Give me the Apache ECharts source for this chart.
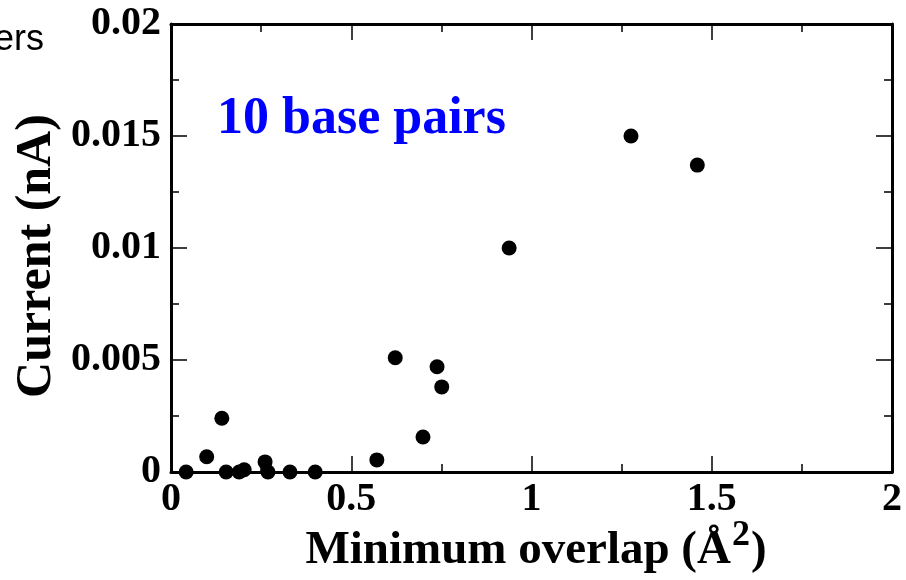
<!DOCTYPE html>
<html>
<head>
<meta charset="utf-8">
<script src="https://cdn.jsdelivr.net/npm/echarts@6/dist/echarts.min.js"></script>
<style>
html,body{margin:0;padding:0;background:#fff;}
#chart{width:906px;height:580px;}
</style>
</head>
<body>
<div id="chart"></div>
<script>
// Data
var overlap = [0.042, 0.099, 0.141, 0.153, 0.189, 0.203, 0.261, 0.269, 0.330, 0.400, 0.571, 0.622, 0.699, 0.738, 0.751, 0.938, 1.276, 1.460];
var current = [0.0000, 0.00068, 0.0024, 0.0000, 0.0000, 0.0001, 0.00045, 0.0000, 0.0000, 0.0000, 0.00054, 0.0051, 0.00156, 0.0047, 0.0038, 0.0100, 0.0150, 0.0137];
var xTicks = [0, 0.5, 1, 1.5, 2];
var yTicks = [0, 0.005, 0.01, 0.015, 0.02];
var xTitle = 'Minimum overlap (Å';
var xTitleSup = '2';
var xTitleEnd = ')';
var yTitle = 'Current (nA)';
var annotation = '10 base pairs';
var cutText = 'ers';

var points = overlap.map(function (x, i) { return [x, current[i]]; });

var serif = '"Liberation Serif", "Times New Roman", serif';
var axisLine = { show: true, onZero: false, lineStyle: { color: '#000', width: 3 } };
var majorTick = { show: true, inside: true, length: 16, lineStyle: { color: '#000', width: 1.5 } };
var minorTick = { show: true, splitNumber: 2, length: 8, lineStyle: { color: '#000', width: 1.5 } };

function xLabel(v) { return xTicks.indexOf(v) >= 0 ? String(v) : ''; }
function yLabel(v) {
  for (var i = 0; i < yTicks.length; i++) if (Math.abs(yTicks[i] - v) < 1e-9) return String(yTicks[i]);
  return '';
}

var chart = echarts.init(document.getElementById('chart'));
chart.setOption({
  animation: false,
  backgroundColor: '#fff',
  grid: { left: 171, right: 14, top: 24, bottom: 108, containLabel: false, outerBoundsMode: 'none' },
  xAxis: [{
    type: 'value', min: 0, max: 2, interval: 0.5, position: 'bottom',
    axisLine: axisLine, axisTick: majorTick, minorTick: minorTick,
    splitLine: { show: false },
    axisLabel: { show: true, margin: 8, color: '#000', fontFamily: serif, fontWeight: 'bold', fontSize: 40, formatter: xLabel }
  }, {
    type: 'value', min: 0, max: 2, interval: 0.5, position: 'top',
    axisLine: axisLine, axisTick: majorTick, minorTick: minorTick,
    splitLine: { show: false },
    axisLabel: { show: false }
  }],
  yAxis: [{
    type: 'value', min: 0, max: 0.02, interval: 0.005, position: 'left',
    axisLine: axisLine, axisTick: majorTick, minorTick: minorTick,
    splitLine: { show: false },
    axisLabel: { show: true, margin: 10, color: '#000', fontFamily: serif, fontWeight: 'bold', fontSize: 40, formatter: yLabel }
  }, {
    type: 'value', min: 0, max: 0.02, interval: 0.005, position: 'right',
    axisLine: axisLine, axisTick: majorTick, minorTick: minorTick,
    splitLine: { show: false },
    axisLabel: { show: false }
  }],
  series: [{
    type: 'scatter',
    xAxisIndex: 0, yAxisIndex: 0,
    data: points,
    symbol: 'circle',
    symbolSize: 15,
    itemStyle: { color: '#000', opacity: 1 },
    clip: false
  }],
  graphic: [{
    type: 'text', left: 217, top: 94,
    style: { text: annotation, fill: '#0000ff', font: 'bold 52px ' + serif }
  }, {
    type: 'text', left: -6, top: 22,
    style: { text: cutText, fill: '#000', font: '36px "Liberation Sans", Arial, sans-serif' }
  }, {
    type: 'text', x: 37, y: 256, rotation: Math.PI / 2,
    style: { text: yTitle, fill: '#000', font: 'bold 50px ' + serif, align: 'center', verticalAlign: 'middle' }
  }, {
    type: 'text', x: 536, y: 574,
    style: {
      text: '{t|' + xTitle + '}{s|' + xTitleSup + '}{t|' + xTitleEnd + '}',
      align: 'center', verticalAlign: 'bottom',
      rich: {
        t: { fontFamily: serif, fontWeight: 'bold', fontSize: 47, fill: '#000', lineHeight: 50, verticalAlign: 'bottom' },
        s: { fontFamily: serif, fontWeight: 'bold', fontSize: 36, fill: '#000', lineHeight: 38, verticalAlign: 'bottom', padding: [0, 1, 20, 1] }
      }
    }
  }]
});
</script>
</body>
</html>
